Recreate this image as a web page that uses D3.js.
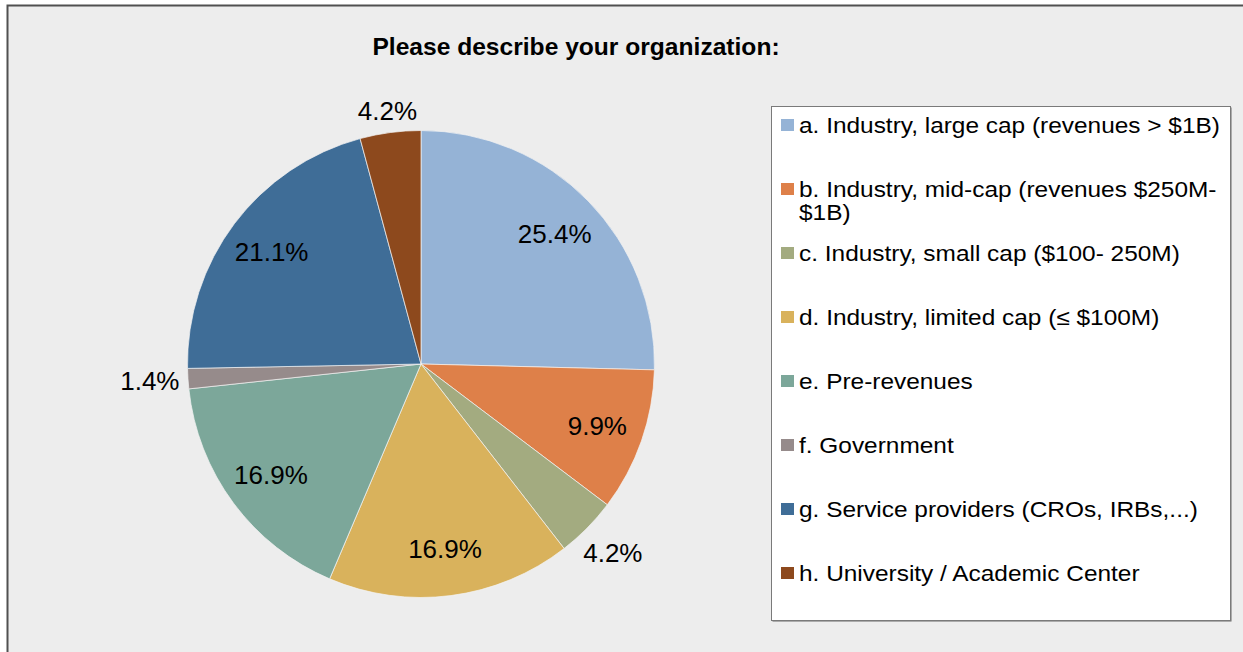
<!DOCTYPE html>
<html>
<head>
<meta charset="utf-8">
<script src="https://cdn.jsdelivr.net/npm/d3@7"></script>
<style>
  html, body { margin: 0; padding: 0; background: #ffffff; }
  svg { display: block; font-family: "Liberation Sans", Arial, sans-serif; }
</style>
</head>
<body>
<svg id="chart" width="1243" height="652"></svg>
<script>
// survey answers, shares in percent as printed on the slices
var categories = [
  "a. Industry, large cap (revenues > $1B)",
  "b. Industry, mid-cap (revenues $250M-$1B)",
  "c. Industry, small cap ($100- 250M)",
  "d. Industry, limited cap (\u2264 $100M)",
  "e. Pre-revenues",
  "f. Government",
  "g. Service providers (CROs, IRBs,...)",
  "h. University / Academic Center"
];
var shares = [25.4, 9.9, 4.2, 16.9, 16.9, 1.4, 21.1, 4.2];
var colors = ["#95b3d6", "#de8049", "#a3ab80", "#d9b25c", "#7ca79a", "#968b8b", "#3f6d97", "#8d491d"];
var title = "Please describe your organization:";

var svg = d3.select("#chart");

// chart area with its frame
svg.append("rect")
  .attr("x", 7.5).attr("y", 5.5)
  .attr("width", 1300).attr("height", 700)
  .attr("fill", "#ededed")
  .attr("stroke", "#505050")
  .attr("stroke-width", 2);

// title font in the original is wider than Liberation, stretch it a bit
svg.append("text")
  .attr("transform", "translate(576,55) scale(1.07,1)")
  .attr("text-anchor", "middle")
  .attr("font-size", 23)
  .attr("font-weight", "bold")
  .attr("fill", "#000")
  .text(title);

var cx = 421, cy = 364, r = 233.5;

var data = categories.map(function(c, i){
  return { name: c, value: shares[i], color: colors[i] };
});

var pie = d3.pie().sort(null).value(function(d){ return d.value; });
var arc = d3.arc().innerRadius(0).outerRadius(r);
var labelArc = d3.arc().innerRadius(r * 0.8).outerRadius(r * 0.8);

var g = svg.append("g").attr("transform", "translate(" + cx + "," + cy + ")");
var arcs = pie(data);

g.selectAll("path")
  .data(arcs)
  .enter().append("path")
  .attr("d", arc)
  .attr("fill", function(d){ return d.data.color; })
  .attr("stroke", "#f4f4f4")
  .attr("stroke-width", 0.7);

// labels: big slices inside, small ones just outside the rim
g.selectAll("text.lbl")
  .data(arcs)
  .enter().append("text")
  .attr("class", "lbl")
  .attr("font-size", 26)
  .attr("fill", "#000")
  .attr("text-anchor", "middle")
  .text(function(d){ return d.data.value.toFixed(1) + "%"; })
  .each(function(d){
    var t = d3.select(this);
    if (d.data.value > 5) {
      var p = labelArc.centroid(d);
      t.attr("x", p[0]).attr("y", p[1] + 9);
    } else {
      var a = (d.startAngle + d.endAngle) / 2;
      var s = Math.sin(a), c = Math.cos(a);
      var w = this.getComputedTextLength();
      var ext = Math.abs(s) * w / 2 + Math.abs(c) * 10;
      var dist = r + 8 + ext;
      t.attr("x", s * dist).attr("y", -c * dist + 9);
    }
  });

// legend box
var lx = 771, ly = 106, lw = 459, lh = 514;
svg.append("rect")
  .attr("x", lx + 1.5).attr("y", ly + 1.5)
  .attr("width", lw).attr("height", lh)
  .attr("fill", "#6a6a6a");
svg.append("rect")
  .attr("x", lx + 0.5).attr("y", ly + 0.5)
  .attr("width", lw).attr("height", lh)
  .attr("fill", "#ffffff")
  .attr("stroke", "#7a7a7a")
  .attr("stroke-width", 1);

var rowY = d3.scaleLinear().domain([0, categories.length - 1]).range([133, 581]);
var stretch = 1.11;

function wrap(str, maxW, measure){
  var lines = [], line = "";
  str.split(" ").forEach(function(word){
    var pieces = word.match(/[^-]+-?|-/g);
    pieces.forEach(function(p, k){
      var trial = line === "" ? p : line + (k === 0 ? " " : "") + p;
      if (line !== "" && measure(trial) > maxW) {
        lines.push(line);
        line = p;
      } else {
        line = trial;
      }
    });
  });
  if (line !== "") lines.push(line);
  return lines;
}

var legend = svg.append("g");
var probe = legend.append("text").attr("font-size", 22);
function measure(s){ probe.text(s); return probe.node().getComputedTextLength() * stretch; }

data.forEach(function(d, i){
  var y = rowY(i);
  legend.append("rect")
    .attr("x", 781).attr("y", y - 14)
    .attr("width", 13).attr("height", 12)
    .attr("fill", d.color);
  var lines = wrap(d.name, 428, measure);
  var t = legend.append("text")
    .attr("transform", "translate(799," + y + ") scale(" + stretch + ",1)")
    .attr("font-size", 22)
    .attr("fill", "#000");
  lines.forEach(function(ln, k){
    t.append("tspan").attr("x", 0).attr("dy", k === 0 ? 0 : 23).text(ln);
  });
});
probe.remove();
</script>
</body>
</html>
